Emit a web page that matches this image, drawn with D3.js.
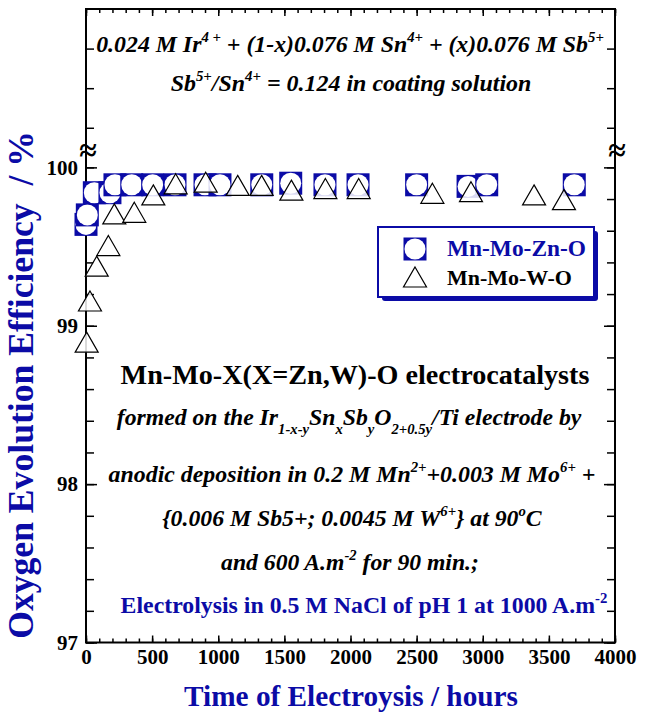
<!DOCTYPE html>
<html>
<head>
<meta charset="utf-8">
<script src="https://cdnjs.cloudflare.com/ajax/libs/d3/7.8.5/d3.min.js"></script>
<style>
body { margin: 0; background: #fff; }
</style>
</head>
<body>
<svg width="652" height="715"></svg>
<script>
var blue = '#0b0ba6'
var serif = '"Liberation Serif", "Times New Roman", serif'

// Mn-Mo-Zn-O  (blue squares)
var znHours = [0, 10, 63, 181, 219, 346, 504, 673, 900, 1013, 1329, 1548, 1807, 2057, 2500, 2889, 3030, 3692]
var znEff   = [99.64, 99.70, 99.84, 99.84, 99.89, 99.89, 99.89, 99.89, 99.89, 99.89, 99.89, 99.90, 99.89, 99.89, 99.89, 99.88, 99.89, 99.89]
// Mn-Mo-W-O  (open triangles)
var wHours = [5, 30, 81, 169, 214, 365, 509, 678, 905, 1147, 1328, 1553, 1810, 2062, 2619, 2911, 3388, 3614]
var wEff   = [98.89, 99.15, 99.37, 99.50, 99.70, 99.71, 99.82, 99.89, 99.90, 99.88, 99.88, 99.85, 99.86, 99.86, 99.83, 99.84, 99.82, 99.79]

var seriesNames = ['Mn-Mo-Zn-O', 'Mn-Mo-W-O']
var xMajor = [0, 500, 1000, 1500, 2000, 2500, 3000, 3500, 4000]
var xMinor = d3.range(0, 4001, 100)
var yMajor = [97, 98, 99, 100]
var yMinor = d3.range(97, 100.01, 0.2).concat([100.25, 100.5, 100.75])
var yBreak = 100.1

var svg = d3.select('svg')

var x = d3.scaleLinear().domain([0, 4000]).range([86, 615])
var y = d3.scaleLinear().domain([97, 101]).range([642.5, 9])

// set font on a text selection
function font(t, size, italic) {
    return t.style('font-family', serif).style('font-weight', 'bold')
        .style('font-style', italic ? 'italic' : 'normal').style('font-size', size + 'px')
}
// change font size so the text spans a given width
function fit(t, width) {
    var w = t.node().getBBox().width
    var s = parseFloat(t.style('font-size'))
    if (w > 0) t.style('font-size', (s * width / w) + 'px')
    return t
}

// ---- axes (ticks point inward) ----
function noLabel() { return '' }

svg.append('g').attr('transform', `translate(0,${y(97)})`)
    .call(d3.axisBottom(x).tickValues(xMinor).tickSize(-4).tickFormat(noLabel))
svg.append('g').attr('class', 'xlab').attr('transform', `translate(0,${y(97)})`)
    .call(d3.axisBottom(x).tickValues(xMajor).tickSize(-7).tickPadding(7).tickFormat(d3.format('d')))
svg.append('g').attr('transform', `translate(0,${y(101)})`)
    .call(d3.axisTop(x).tickValues(xMinor).tickSize(-4).tickFormat(noLabel))
svg.append('g').attr('transform', `translate(0,${y(101)})`)
    .call(d3.axisTop(x).tickValues(xMajor).tickSize(-7).tickFormat(noLabel))

svg.append('g').attr('transform', `translate(${x(0)},0)`)
    .call(d3.axisLeft(y).tickValues(yMinor).tickSize(-8).tickFormat(noLabel))
svg.append('g').attr('class', 'ylab').attr('transform', `translate(${x(0)},0)`)
    .call(d3.axisLeft(y).tickValues(yMajor).tickSize(-11).tickPadding(8).tickFormat(d3.format('d')))
svg.append('g').attr('transform', `translate(${x(4000)},0)`)
    .call(d3.axisRight(y).tickValues(yMinor).tickSize(-8).tickFormat(noLabel))
svg.append('g').attr('transform', `translate(${x(4000)},0)`)
    .call(d3.axisRight(y).tickValues(yMajor).tickSize(-11).tickFormat(noLabel))

svg.selectAll('.domain').remove()
svg.selectAll('.tick line').attr('stroke', '#000').attr('stroke-width', 1.5)
font(svg.selectAll('.xlab text, .ylab text'), 21).attr('fill', '#000')

// frame
svg.append('rect')
    .attr('x', x(0)).attr('y', y(101))
    .attr('width', x(4000) - x(0)).attr('height', y(97) - y(101))
    .attr('fill', 'none').attr('stroke', '#000').attr('stroke-width', 2)

// axis break marks
;[x(0), x(4000)].forEach(function (bx) {
    font(svg.append('text'), 32).attr('x', bx + 2).attr('y', y(yBreak) + 9)
        .attr('text-anchor', 'middle').text('\u2248')
})

// ---- markers ----
var zn = znHours.map((d, i) => ({ t: d, v: znEff[i] }))
var w = wHours.map((d, i) => ({ t: d, v: wEff[i] }))

function square(g) {
    g.append('rect').attr('x', -11.5).attr('y', -11.5).attr('width', 23).attr('height', 23).attr('fill', blue)
    g.append('circle').attr('r', 10.5).attr('fill', '#fff')
}
function triangle(g) {
    g.append('path').attr('d', 'M0,-11L11.5,9L-11.5,9Z')
        .attr('fill', '#fff').attr('fill-opacity', 0.85).attr('stroke', '#000').attr('stroke-width', 1.2)
}

svg.append('g').selectAll('g').data(zn).enter().append('g')
    .attr('transform', d => `translate(${x(d.t)},${y(d.v)})`)
    .each(function () { square(d3.select(this)) })

svg.append('g').selectAll('g').data(w).enter().append('g')
    .attr('transform', d => `translate(${x(d.t)},${y(d.v)})`)
    .each(function () { triangle(d3.select(this)) })

// ---- legend ----
var lg = svg.append('g').attr('transform', 'translate(378,227)')
lg.append('rect').attr('x', 4).attr('y', 4).attr('width', 216).attr('height', 70).attr('rx', 3).attr('fill', blue)
lg.append('rect').attr('x', 0).attr('y', 0).attr('width', 216).attr('height', 70).attr('fill', '#fff')
    .attr('stroke', blue).attr('stroke-width', 2)
var leg = lg.selectAll('.item').data(seriesNames).enter().append('g')
    .attr('transform', (d, i) => `translate(37,${22 + i * 29})`)
leg.each(function (d, i) { if (i == 0) square(d3.select(this)); else triangle(d3.select(this)) })
leg.append('text').attr('x', 32).attr('y', 7)
    .attr('fill', (d, i) => i == 0 ? blue : '#000').text(d => d)
    .each(function (d, i) { fit(font(d3.select(this), 22), i == 0 ? 139 : 125) })

// ---- rich text helper (superscripts / subscripts in em so fit() scales them) ----
function rich(x0, y0, parts, size, italic, color, width) {
    var t = font(svg.append('text'), size, italic).attr('x', x0).attr('y', y0)
        .attr('text-anchor', 'middle').attr('fill', color || '#000')
    var shift = 0
    parts.forEach(function (p) {
        var s = typeof p == 'string' ? p : p[0]
        var kind = typeof p == 'string' ? '' : p[1]
        var target = kind == 'sup' ? -0.42 : kind == 'sub' ? 0.38 : 0
        // dy is in the tspan's own em, so divide by its relative size
        var rel = kind ? 0.62 : 1
        t.append('tspan').attr('dy', ((target - shift) / rel) + 'em')
            .style('font-size', kind ? '0.62em' : null)
            .text(s)
        shift = target
    })
    if (width) fit(t, width)
    return t
}

rich(350, 52, ['0.024 M Ir', ['4 +', 'sup'], ' + (1-x)0.076 M Sn', ['4+', 'sup'], ' + (x)0.076 M Sb', ['5+', 'sup']], 22, true, null, 508)
rich(351, 91, ['Sb', ['5+', 'sup'], '/Sn', ['4+', 'sup'], ' = 0.124 in coating solution'], 22, true, null, 361)

rich(355, 384, ['Mn-Mo-X(X=Zn,W)-O electrocatalysts'], 26, false, null, 469)
rich(349, 425, ['formed on the Ir', ['1-x-y', 'sub'], 'Sn', ['x', 'sub'], 'Sb', ['y', 'sub'], 'O', ['2+0.5y', 'sub'], '/Ti electrode by'], 22, true, null, 465)
rich(352, 482, ['anodic deposition in 0.2 M Mn', ['2+', 'sup'], '+0.003 M Mo', ['6+', 'sup'], ' +'], 22, true, null, 487)
rich(352, 526, ['{0.006 M Sb5+; 0.0045 M W', ['6+', 'sup'], '} at 90', ['o', 'sup'], 'C'], 22, true, null, 380)
rich(350, 570, ['and 600 A.m', ['-2', 'sup'], ' for 90 min.;'], 22, true, null, 258)
rich(364, 613, ['Electrolysis in 0.5 M NaCl of pH 1 at 1000 A.m', ['-2', 'sup']], 21, false, blue, 487)

// ---- axis titles ----
var xt = font(svg.append('text'), 29).attr('x', 351).attr('y', 706).attr('text-anchor', 'middle')
    .attr('fill', blue).text('Time of Electroysis / hours')
fit(xt, 334)
var yt = font(svg.append('text'), 33).attr('transform', 'translate(33,385) rotate(-90)').attr('text-anchor', 'middle')
    .attr('fill', blue).attr('xml:space', 'preserve')
    .text('Oxygen Evolution Efficiency  / %')
fit(yt, 508)
</script>
</body>
</html>
